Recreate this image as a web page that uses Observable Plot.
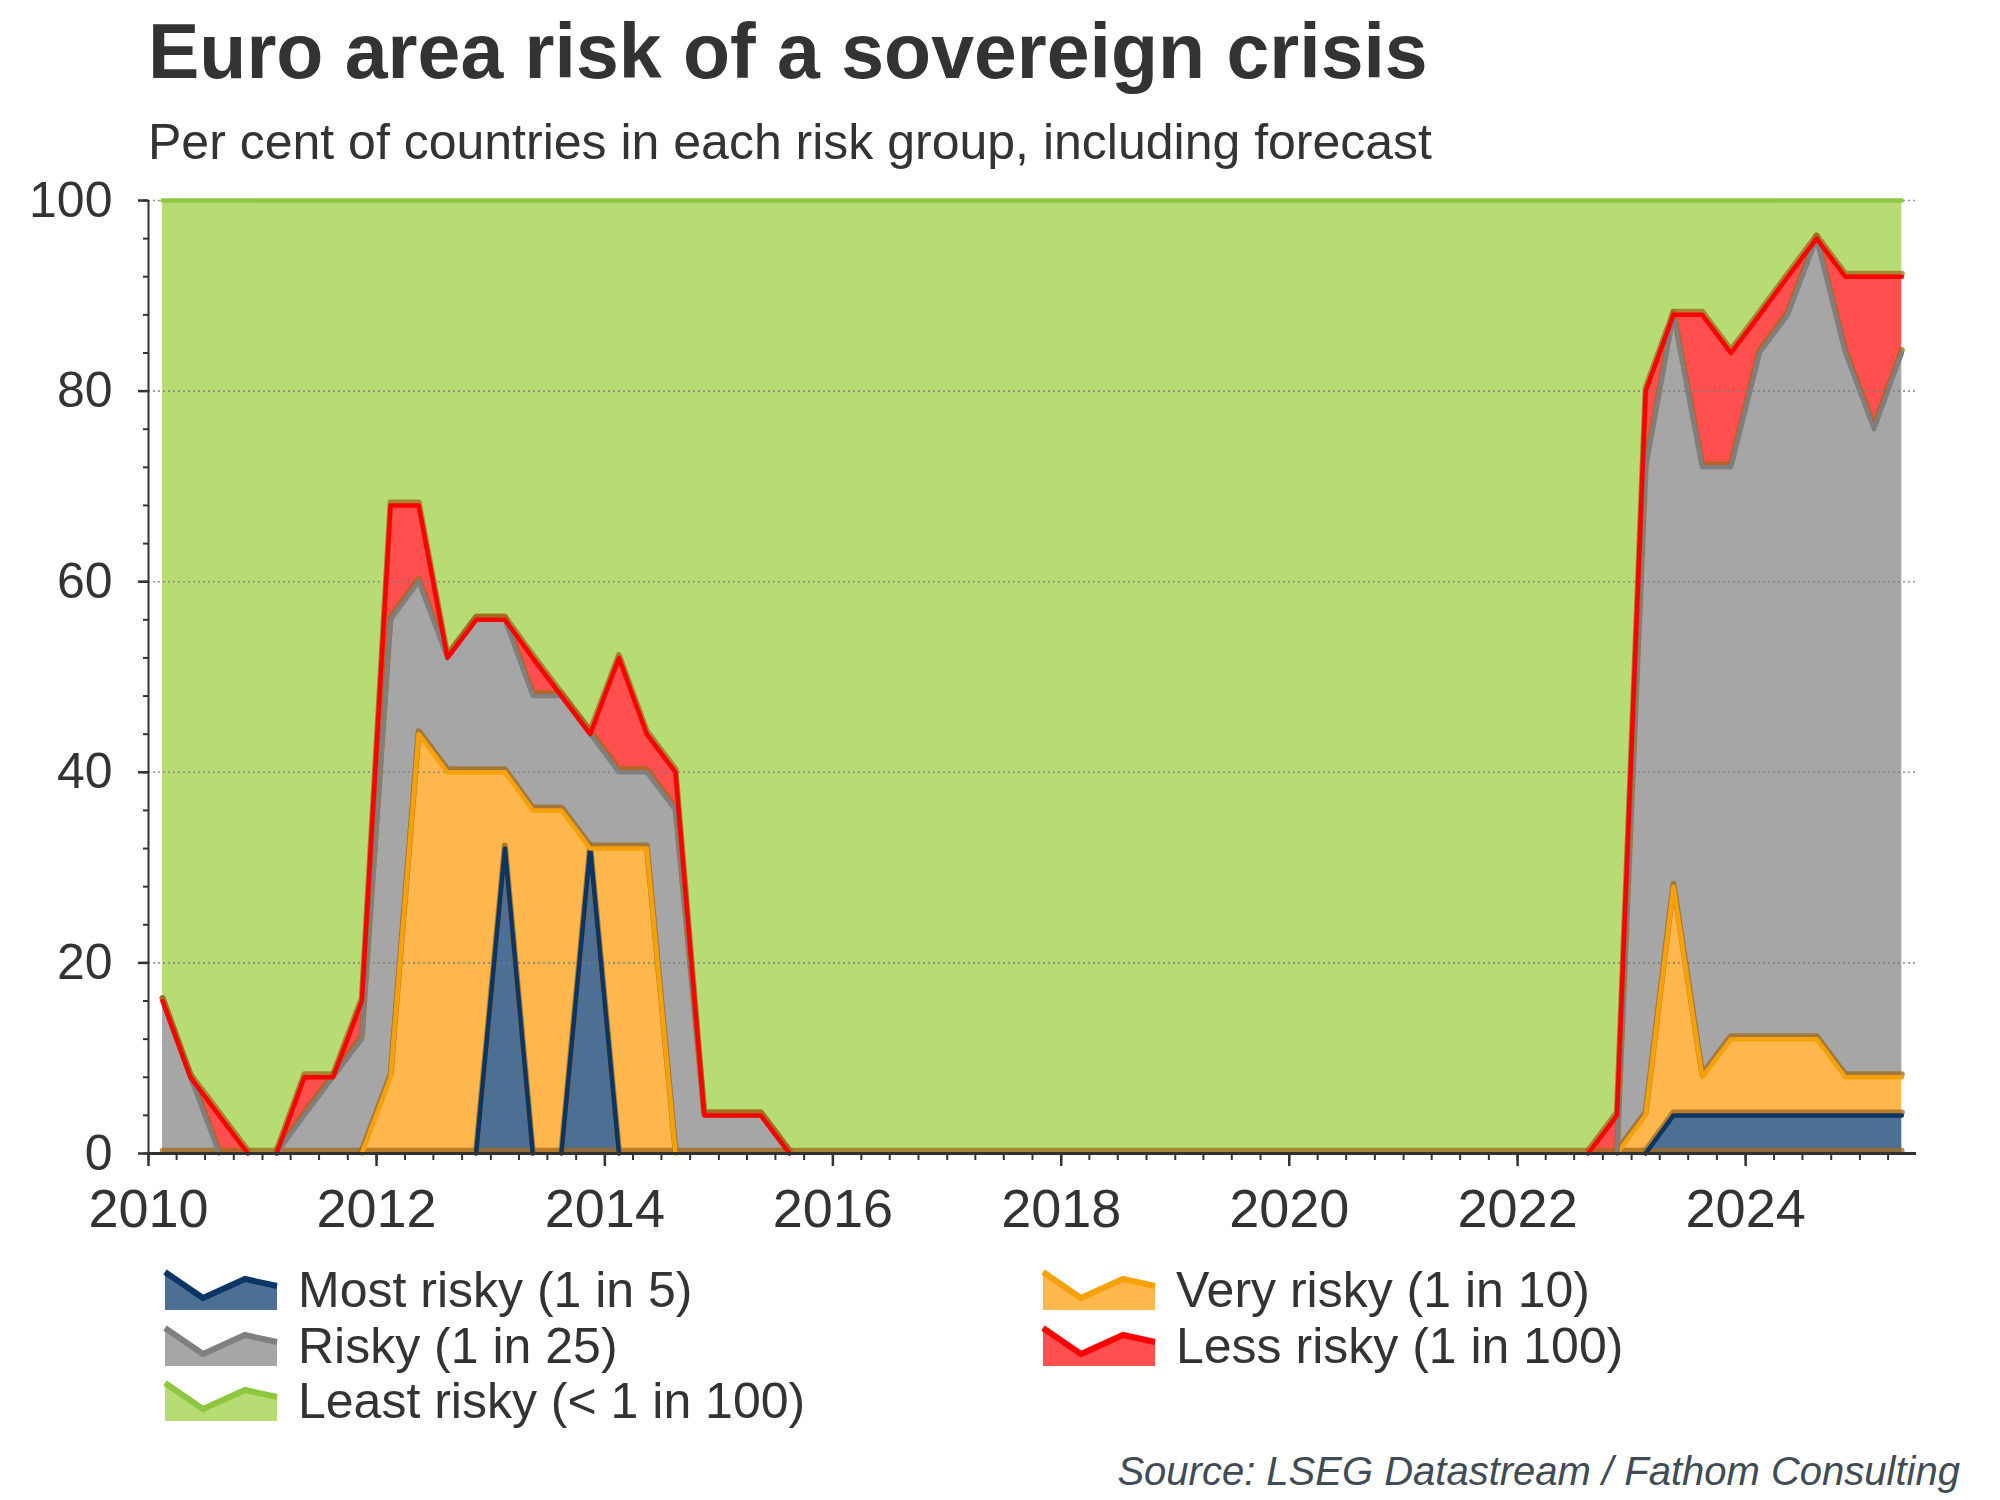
<!DOCTYPE html>
<html>
<head>
<meta charset="utf-8">
<script src="https://cdn.jsdelivr.net/npm/d3@7"></script>
<script src="https://cdn.jsdelivr.net/npm/@observablehq/plot@0.6"></script>
<style>
html, body { margin: 0; padding: 0; background: #fff; }
#page { position: relative; width: 2000px; height: 1500px; font-family: "Liberation Sans", Arial, sans-serif; color: #333; overflow: hidden; }
.t { position: absolute; white-space: nowrap; }
</style>
</head>
<body>
<div id="page">
  <div class="t" style="left:148px; top:13px; font-size:77px; line-height:77px; font-weight:bold; color:#333;">Euro area risk of a sovereign crisis</div>
  <div class="t" style="left:148px; top:117px; font-size:50px; line-height:50px; color:#333;">Per cent of countries in each risk group, including forecast</div>
  <div id="chart" style="position:absolute; left:0; top:180px;"></div>
  <svg id="legend" style="position:absolute; left:0; top:1250px;" width="2000" height="190"></svg>
  <div class="t" style="right:40px; top:1451px; font-size:40px; line-height:40px; font-style:italic; color:#404b55;">Source: LSEG Datastream / Fathom Consulting</div>
</div>
<script>
// ---- Data (quarterly, 2010 Q1 – 2025 Q2), per cent of countries ----
const startYear = 2010;
const nQuarters = 62;

const mostRisky = [
  0, 0, 0, 0,      // 2010
  0, 0, 0, 0,      // 2011
  0, 0, 0, 0,      // 2012
  32, 0, 0, 32,    // 2013
  0, 0, 0, 0,      // 2014
  0, 0, 0, 0,      // 2015
  0, 0, 0, 0,      // 2016
  0, 0, 0, 0,      // 2017
  0, 0, 0, 0,      // 2018
  0, 0, 0, 0,      // 2019
  0, 0, 0, 0,      // 2020
  0, 0, 0, 0,      // 2021
  0, 0, 0, 0,      // 2022
  0, 4, 4, 4,      // 2023
  4, 4, 4, 4,      // 2024
  4, 4             // 2025
];
const veryRisky = [
  0, 0, 0, 0,
  0, 0, 0, 0,
  8, 44, 40, 40,
  8, 36, 36, 0,
  32, 32, 0, 0,
  0, 0, 0, 0,
  0, 0, 0, 0,
  0, 0, 0, 0,
  0, 0, 0, 0,
  0, 0, 0, 0,
  0, 0, 0, 0,
  0, 0, 0, 0,
  0, 0, 0, 0,
  4, 24, 4, 8,
  8, 8, 8, 4,
  4, 4
];
const risky = [
  16, 8, 0, 0,
  0, 4, 8, 12,
  48, 16, 12, 16,
  16, 12, 12, 12,
  8, 8, 36, 4,
  4, 4, 0, 0,
  0, 0, 0, 0,
  0, 0, 0, 0,
  0, 0, 0, 0,
  0, 0, 0, 0,
  0, 0, 0, 0,
  0, 0, 0, 0,
  0, 0, 0, 0,
  68, 60, 64, 60,
  72, 76, 84, 76,
  68, 76
];
const lessRisky = [
  0, 0, 4, 0,
  0, 4, 0, 4,
  12, 8, 0, 0,
  0, 4, 0, 0,
  12, 4, 4, 0,
  0, 0, 0, 0,
  0, 0, 0, 0,
  0, 0, 0, 0,
  0, 0, 0, 0,
  0, 0, 0, 0,
  0, 0, 0, 0,
  0, 0, 0, 0,
  0, 0, 0, 4,
  8, 0, 16, 12,
  4, 4, 0, 8,
  16, 8
];
const leastRisky = [
  84, 92, 96, 100,
  100, 92, 92, 84,
  32, 32, 48, 44,
  44, 48, 52, 56,
  48, 56, 60, 96,
  96, 96, 100, 100,
  100, 100, 100, 100,
  100, 100, 100, 100,
  100, 100, 100, 100,
  100, 100, 100, 100,
  100, 100, 100, 100,
  100, 100, 100, 100,
  100, 100, 100, 96,
  20, 12, 12, 16,
  12, 8, 4, 8,
  8, 8
];

const seriesNames = ["Most risky (1 in 5)", "Very risky (1 in 10)", "Risky (1 in 25)", "Less risky (1 in 100)", "Least risky (< 1 in 100)"];
const seriesFills = ["#4e6f94", "#fdb74d", "#a6a6a6", "#ff4f4f", "#b8dc74"];
const seriesStrokes = ["#0b3565", "#f7a10a", "#7f7f7f", "#ff0000", "#8dc63f"];
const seriesValues = [mostRisky, veryRisky, risky, lessRisky, leastRisky];

const yMajorTicks = [0, 20, 40, 60, 80, 100];
const yMinorTicks = d3.range(0, 101, 4);
const xMajorYears = [2010, 2012, 2014, 2016, 2018, 2020, 2022, 2024];

// ---- Build tables ----
const dates = d3.range(nQuarters).map(i => new Date(Date.UTC(startYear + Math.floor(i / 4), (i % 4) * 3 + 1, 15)));
let base = dates.map(() => 0);
const series = seriesNames.map((name, k) => {
  const vals = seriesValues[k];
  const rows = dates.map((d, i) => ({date: d, lo: base[i], hi: base[i] + vals[i]}));
  base = rows.map(r => r.hi);
  const lineRows = [];
  let group = -1, prevVisible = false;
  for (let i = 0; i < rows.length - 1; i++) {
    const vis = rows[i].hi > 0 || rows[i + 1].hi > 0;
    if (vis) {
      if (!prevVisible) { group++; lineRows.push({...rows[i], g: group}); }
      lineRows.push({...rows[i + 1], g: group});
    }
    prevVisible = vis;
  }
  return {name, fill: seriesFills[k], stroke: seriesStrokes[k], rows, lineRows};
});

const shadow = "rgba(160,105,25,0.75)";
const marks = [];
series.forEach(s => marks.push(Plot.areaY(s.rows, {x: "date", y1: "lo", y2: "hi", fill: s.fill})));
marks.push(Plot.ruleY(yMajorTicks.filter(v => v > 0), {stroke: "#7a7a7a", strokeOpacity: 0.8, strokeWidth: 1.6, strokeDasharray: "2,3"}));
marks.push(Plot.lineY(dates, {x: d => d, y: d => 0, stroke: shadow, strokeWidth: 5.5, dy: -3}));
series.forEach((s, k) => {
  if (k < 4) marks.push(Plot.line(s.lineRows, {x: "date", y: "hi", z: "g", stroke: shadow, strokeWidth: 6, dy: -3, strokeLinejoin: "round", strokeLinecap: "round"}));
  marks.push(Plot.line(s.lineRows, {x: "date", y: "hi", z: "g", stroke: s.stroke, strokeWidth: 4.5, strokeLinejoin: "round", strokeLinecap: "round"}));
});
const x0 = new Date(Date.UTC(2010, 0, 1));
const x1 = new Date(Date.UTC(2025, 6, 1));
marks.push(Plot.axisX({ticks: xMajorYears.map(y => new Date(Date.UTC(y, 0, 1))), tickFormat: d3.utcFormat("%Y"), tickSize: 13, tickPadding: 22, fontSize: 54, strokeWidth: 2.5, stroke: "#333", fill: "#333"}));
marks.push(Plot.axisX({ticks: d3.utcMonth.range(x0, x1, 3), tickFormat: () => "", tickSize: 7, strokeWidth: 2, stroke: "#333"}));
marks.push(Plot.axisY({ticks: yMajorTicks, tickSize: 10, tickPadding: 26, fontSize: 50, strokeWidth: 2.5, stroke: "#333", fill: "#333"}));
marks.push(Plot.axisY({ticks: yMinorTicks, tickFormat: () => "", tickSize: 5, strokeWidth: 2, stroke: "#333"}));
marks.push(Plot.ruleX([x0], {stroke: "#333", strokeWidth: 2}));
marks.push(Plot.ruleY([0], {stroke: "#333", strokeWidth: 3}));

const chart = Plot.plot({
  width: 2000,
  height: 1100,
  marginLeft: 148,
  marginRight: 84,
  marginTop: 20,
  marginBottom: 127,
  x: {type: "utc", domain: [x0, x1], label: null},
  y: {domain: [0, 100], label: null},
  style: {fontFamily: "'Liberation Sans', Arial, sans-serif", color: "#333", background: "transparent", overflow: "visible"},
  marks
});
document.getElementById("chart").appendChild(chart);

// ---- Legend ----
const legendPos = [
  {col: 0, row: 0}, {col: 1, row: 0}, {col: 0, row: 1}, {col: 1, row: 1}, {col: 0, row: 2}
];
const colX = [165, 1055 - 12];
const rowBase = [57, 113, 168];
const sw = 112, sh = 40;
const topPts = [[0, 2], [38, 28], [80, 9], [112, 16]];
const legend = d3.select("#legend");
series.forEach((s, k) => {
  const p = legendPos[k];
  const gx = colX[p.col], gy = rowBase[p.row] - 37;
  const g = legend.append("g").attr("transform", `translate(${gx},${gy})`);
  g.append("path")
    .attr("d", "M" + topPts.map(q => q.join(",")).join("L") + `L${sw},${sh}L0,${sh}Z`)
    .attr("fill", s.fill);
  g.append("path")
    .attr("d", "M" + topPts.map(q => q.join(",")).join("L"))
    .attr("fill", "none").attr("stroke", s.stroke).attr("stroke-width", 6).attr("stroke-linejoin", "miter");
  legend.append("text")
    .attr("x", gx + 133).attr("y", rowBase[p.row])
    .attr("font-family", "'Liberation Sans', Arial, sans-serif")
    .attr("font-size", 50).attr("fill", "#333")
    .text(s.name);
});
</script>
</body>
</html>
